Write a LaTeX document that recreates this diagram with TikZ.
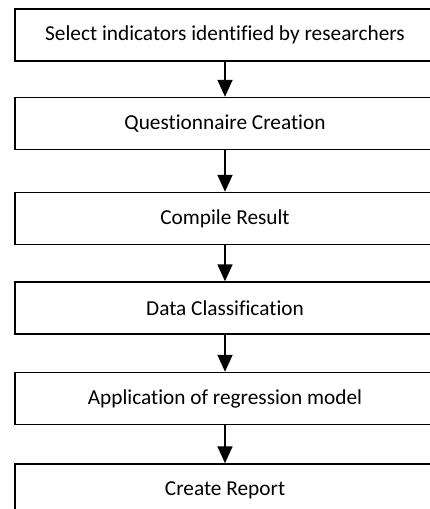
\documentclass[tikz,border=0pt]{standalone}
\usepackage{fontspec}
\setmainfont{Carlito}[Ligatures=CommonOff]
\usetikzlibrary{arrows.meta}

\begin{document}
\begin{tikzpicture}[x=1pt,y=-1pt,
  stepbox/.style={draw,line width=1.5pt,minimum width=420pt,minimum height=52pt,
    inner sep=0pt,font=\fontsize{21.3}{24}\selectfont},
  flow/.style={line width=1.8pt,-{Triangle[width=15pt,length=17pt]}}]

\useasboundingbox (0,0) rectangle (429,509);

\node[stepbox] (select) at (225,35) {Select indicators identified by researchers};
\node[stepbox] (quest) at (225,123.5) {Questionnaire Creation};
\node[stepbox] (compile) at (225,218.5) {Compile Result};
\node[stepbox] (classify) at (225,308) {Data Classification};
\node[stepbox] (regress) at (225,398.5) {Application of regression model};
\node[stepbox] (report) at (225,490) {Create Report};

\draw[flow] (select) -- (quest);
\draw[flow] (quest) -- (compile);
\draw[flow] (compile) -- (classify);
\draw[flow] (classify) -- (regress);
\draw[flow] (regress) -- (report);

\end{tikzpicture}
\end{document}
